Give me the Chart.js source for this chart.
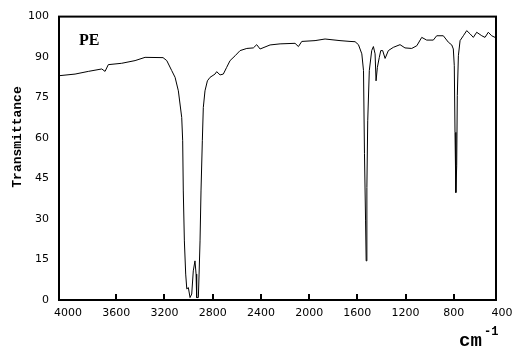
<!DOCTYPE html>
<html>
<head>
<meta charset="utf-8">
<script src="https://cdn.jsdelivr.net/npm/chart.js@4/dist/chart.umd.min.js"></script>
<style>
  html, body { margin: 0; padding: 0; background: #fff; }
  #wrap { width: 523px; height: 352px; }
</style>
</head>
<body>
<div id="wrap"><canvas id="ir"></canvas></div>
<script>
// IR spectrum of PE (cm-1 / %T)
var wavenumbers = [
  4075, 3942, 3832, 3720, 3693, 3666, 3555, 3444, 3361, 3212,
  3181, 3140, 3112, 3085, 3057, 3049, 3044, 3035, 3024, 3015,
  3002, 2988, 2974, 2961, 2947, 2938, 2933, 2919, 2913, 2905,
  2897, 2886, 2878, 2864, 2844, 2822, 2781, 2767, 2739, 2712,
  2684, 2656, 2614, 2573, 2517, 2463, 2435, 2407, 2324, 2241,
  2117, 2089, 2061, 1951, 1868, 1744, 1661, 1619, 1591, 1563,
  1549, 1541, 1532, 1527, 1521, 1514, 1501, 1481, 1467, 1453,
  1445, 1434, 1418, 1406, 1390, 1370, 1343, 1302, 1246, 1205,
  1149, 1107, 1066, 1025, 970, 942, 887, 845, 817, 804,
  796, 790, 784, 782, 776, 771, 762, 748, 721, 693,
  665, 638, 610, 568, 541, 514, 486, 458
];
var transmittance = [
  83.1, 83.7, 84.7, 85.6, 84.7, 87.2, 87.7, 88.7, 89.9, 89.8,
  88.7, 85.0, 82.5, 77.5, 67.6, 59.0, 40.4, 21.9, 9.6, 4.1,
  4.6, 0.9, 2.2, 10.8, 14.5, 9.6, 0.9, 0.9, 9.6, 21.9,
  40.4, 59.0, 71.3, 77.5, 81.2, 82.5, 83.7, 84.6, 83.4, 83.7,
  86.2, 88.7, 90.5, 92.4, 93.2, 93.4, 94.6, 93.0, 94.5, 94.9,
  95.1, 93.9, 95.8, 96.1, 96.7, 96.1, 95.8, 95.7, 94.6, 91.2,
  85.0, 54.2, 29.3, 14.5, 41.7, 66.4, 85.0, 92.4, 93.9, 91.2,
  81.2, 86.2, 89.9, 92.4, 92.4, 89.5, 92.4, 93.6, 94.6, 93.4,
  93.2, 94.2, 97.3, 96.3, 96.3, 97.9, 97.9, 95.5, 94.5, 93.0,
  86.8, 62.1, 47.2, 39.8, 49.7, 75.7, 90.5, 96.1, 97.9, 99.8,
  98.6, 97.3, 99.2, 97.9, 97.3, 99.2, 97.9, 97.3
];
var xTicks = [4000, 3600, 3200, 2800, 2400, 2000, 1600, 1200, 800, 400];
var yTicks = [0, 15, 30, 45, 60, 75, 90, 105];
var yTickLabels = ['0', '15', '30', '45', '60', '75', '90', '100'];
var sampleName = 'PE';
var yTitle = 'Transmittance';
var xUnit = 'cm', xUnitExp = '-1';

var points = wavenumbers.map(function(w, i) { return { x: w, y: transmittance[i] }; });

// frame, inward tick marks and the loose labels
var frame = {
  id: 'frame',
  afterDraw: function(chart) {
    var ctx = chart.ctx, a = chart.chartArea, xs = chart.scales.x;
    ctx.save();
    ctx.strokeStyle = '#000';
    ctx.lineWidth = 2;
    ctx.strokeRect(a.left, a.top, a.right - a.left, a.bottom - a.top);
    ctx.beginPath();
    xTicks.forEach(function(v) {
      var px = Math.round(xs.getPixelForValue(v));
      if (px <= a.left + 12 || px >= a.right - 2) return;
      ctx.moveTo(px, a.bottom);
      ctx.lineTo(px, a.bottom - 6);
    });
    ctx.stroke();

    ctx.fillStyle = '#000';
    ctx.textBaseline = 'alphabetic';
    ctx.font = 'bold 16px "Liberation Serif"';
    ctx.fillText(sampleName, 79, 45);

    ctx.font = 'bold 19px "Liberation Mono"';
    ctx.fillText(xUnit, 459, 346);
    ctx.font = 'bold 12px "Liberation Mono"';
    ctx.fillText(xUnitExp, 484, 335);

    ctx.translate(21, 137);
    ctx.rotate(-Math.PI / 2);
    ctx.textAlign = 'center';
    ctx.font = 'bold 13px "Liberation Mono"';
    ctx.fillText(yTitle, 0, 0);
    ctx.restore();
  }
};

var ctx = document.getElementById('ir').getContext('2d');
new Chart(ctx, {
  type: 'line',
  data: {
    datasets: [{
      data: points,
      borderColor: '#000',
      borderWidth: 1,
      pointRadius: 0,
      tension: 0,
      fill: false
    }]
  },
  options: {
    responsive: true,
    maintainAspectRatio: false,
    animation: false,
    layout: { padding: { top: 16, right: 27, left: 0, bottom: 0 } },
    plugins: { legend: { display: false }, tooltip: { enabled: false } },
    scales: {
      x: {
        type: 'linear',
        reverse: true,
        min: 450,
        max: 4075,
        grid: { display: false, drawTicks: false },
        border: { display: false },
        afterBuildTicks: function(scale) {
          scale.ticks = xTicks.map(function(v) { return { value: v }; });
        },
        afterFit: function(scale) { scale.height = 52; },
        ticks: {
          autoSkip: false,
          maxRotation: 0,
          padding: 7,
          color: '#000',
          font: { family: 'DejaVu Sans', size: 11 },
          callback: function(v) { return String(v); }
        }
      },
      y: {
        min: 0,
        max: 105,
        grid: { display: false, drawTicks: false },
        border: { display: false },
        afterBuildTicks: function(scale) {
          scale.ticks = yTicks.map(function(v) { return { value: v }; });
        },
        afterFit: function(scale) { scale.width = 59; },
        ticks: {
          autoSkip: false,
          padding: 10,
          color: '#000',
          font: { family: 'DejaVu Sans', size: 11 },
          callback: function(v, i) { return yTickLabels[i]; }
        }
      }
    }
  },
  plugins: [frame]
});
</script>
</body>
</html>
